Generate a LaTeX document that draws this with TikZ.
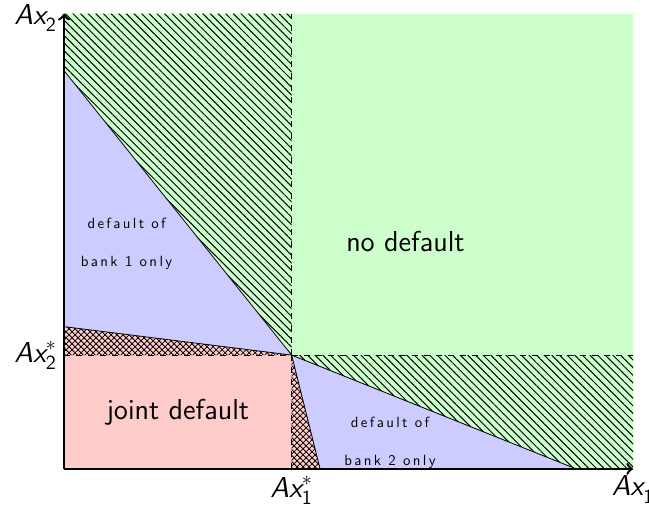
\documentclass[tikz,border=0pt]{standalone}
\usepackage{fontspec}
\usetikzlibrary{patterns,patterns.meta}

\definecolor{nodefgreen}{RGB}{204,255,204}
\definecolor{onlyblue}{RGB}{204,204,255}
\definecolor{jointred}{RGB}{255,204,204}

\newfontfamily\spacedsf[LetterSpace=16]{lmsans10-regular.otf}
\newcommand{\assetlbl}[2]{$\textsf{\itshape Ax}^{#2}_{\mathsf{#1}}$}

\tikzset{
  hatched/.style={postaction={pattern={Lines[angle=-45, distance=2.7pt, line width=0.5pt]}}},
  crossed/.style={postaction={pattern=crosshatch}}
}

\begin{document}
\begin{tikzpicture}[font=\sffamily]

  \useasboundingbox (-1.125,-0.65) rectangle (10.28,8.24);

  % corner points of the regions
  \coordinate (O) at (0,0);
  \coordinate (S) at (4,2);
  \coordinate (X1) at (10,0);
  \coordinate (X2) at (0,8);
  \coordinate (S1) at (4,0);
  \coordinate (S2) at (0,2);
  \coordinate (T1) at (4,8);
  \coordinate (R2) at (10,2);
  \coordinate (TR) at (10,8);
  \coordinate (B1) at (0,7);
  \coordinate (B2) at (9,0);
  \coordinate (C1) at (0,2.5);
  \coordinate (C2) at (4.5,0);

  % no default
  \fill[nodefgreen] (S) rectangle (TR);
  \fill[nodefgreen, hatched] (B1) -- (S) -- (T1) -- (X2) -- cycle;
  \fill[nodefgreen, hatched] (S) -- (B2) -- (X1) -- (R2) -- cycle;

  % default of one bank only
  \fill[onlyblue] (B1) -- (S) -- (C1) -- cycle;
  \fill[onlyblue] (S) -- (C2) -- (B2) -- cycle;

  % joint default
  \fill[jointred] (O) rectangle (S);
  \fill[jointred, crossed] (S2) -- (C1) -- (S) -- cycle;
  \fill[jointred, crossed] (S1) -- (S) -- (C2) -- cycle;

  % boundaries
  \draw (B1) -- (S) -- (B2);
  \draw (C1) -- (S) -- (C2);
  \draw[dashed] (S) -- (T1);
  \draw[dashed] (S) -- (R2);
  \draw[dashed] (S2) -- (S);
  \draw[dashed] (S1) -- (S);

  % axes
  \draw[very thick, ->] (O) -- (X1);
  \draw[very thick, ->] (O) -- (X2);
  \node[anchor=north, font=\Large] (x1lbl) at (X1) {\assetlbl{1}{}};
  \node[anchor=east, font=\Large] (x2lbl) at ([yshift=-2pt]X2) {\assetlbl{2}{}};
  \node[anchor=north, font=\Large] (s1lbl) at (S1) {\assetlbl{1}{*}};
  \node[anchor=east, font=\Large] (s2lbl) at (S2) {\assetlbl{2}{*}};

  % region labels
  \node[font=\sffamily\Large] (nodef) at (6,4) {no default};
  \node[font=\sffamily\Large] (joint) at (2,1) {joint default};
  \node[font=\spacedsf\fontsize{7.4}{9}\selectfont, align=center] (only1) at (1.1,3.96) {default of\\[10pt]bank 1 only};
  \node[font=\spacedsf\fontsize{7.4}{9}\selectfont, align=center] (only2) at (5.73,0.45) {default of\\[10pt]bank 2 only};

\end{tikzpicture}
\end{document}
